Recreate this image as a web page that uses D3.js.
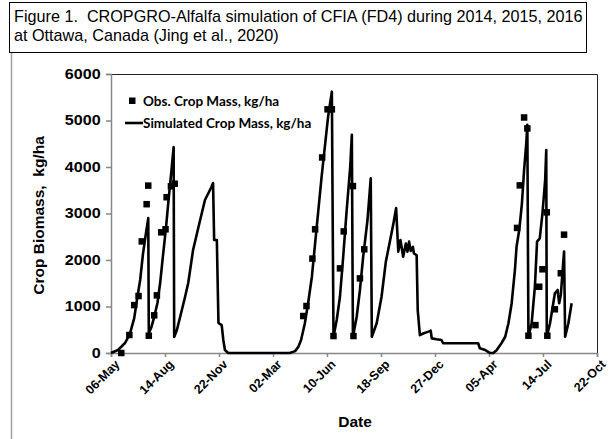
<!DOCTYPE html>
<html>
<head>
<meta charset="utf-8">
<script src="https://cdn.jsdelivr.net/npm/d3@7"></script>
<style>
  body { margin: 0; background: #fff; }
  svg { display: block; font-family: "Liberation Sans", Arial, sans-serif; }
  .title { white-space: pre; }
</style>
</head>
<body>
<div id="chart"></div>
<script>
// days counted from 06-May-2014
const startDate = new Date(Date.UTC(2014, 4, 6));

const simDays = [0, 13, 26, 35, 43, 48, 54, 59, 65, 69, 70, 75, 80, 86, 91, 96, 102, 106, 112, 116,
  117, 122, 128, 137, 143, 152, 162, 174, 186, 189, 191, 196, 199, 205, 208, 211, 217,
  331, 341, 347, 352, 359, 365, 372, 378, 384, 390, 396, 402, 409, 412, 418, 424, 430, 436, 443, 446,
  448, 455, 461, 467, 475, 481, 483, 492, 501, 509, 517, 523, 528, 532, 536, 541, 546, 549, 552, 555,
  559, 561, 566, 568, 572, 578, 588, 592, 594, 603, 612, 615, 680, 683, 693, 699, 702, 708, 714, 723,
  730, 736, 742, 748, 751, 756, 761, 765, 769, 771, 773, 779, 785, 789, 794, 799, 804, 806, 807, 813,
  819, 822, 827, 830, 833, 839, 841, 847, 853];
const simMass = [0, 65, 215, 410, 750, 1140, 1570, 2110, 2600, 2900, 430, 560, 775, 1075, 1505, 2065, 2710, 3225, 3935, 4430,
  345, 495, 775, 1200, 1505, 2215, 2710, 3290, 3570, 3655, 2430, 2430, 645, 600, 280, 65, 0,
  0, 40, 135, 280, 640, 1070, 1640, 2355, 3075, 3790, 4435, 5080, 5620, 350, 710, 1210, 2070, 3005, 4005, 4690,
  350, 780, 1355, 2070, 2860, 3755, 350, 640, 1210, 1965, 2430, 2785, 3115, 2180, 2430, 2070, 2355, 2180, 2395, 2195,
  2285, 2140, 2105, 925, 385, 420, 460, 480, 315, 295, 280, 210, 210, 100, 65, 20, 0, 0, 60, 210,
  350, 640, 1070, 1785, 2285, 2645, 3220, 3935, 4510, 4905, 350, 640, 1425, 2395, 2465, 3005, 3720, 4365, 350, 640,
  1070, 1285, 1355, 1070, 1250, 2180, 350, 640, 1070];

const obsDays = [19, 34, 43, 51, 57, 66, 69, 70, 80, 85, 93, 101, 103, 111, 118,
  356, 362, 373, 378, 391, 401, 409, 412, 424, 431, 448, 449, 461, 469,
  752, 757, 765, 771, 773, 786, 793, 799, 807, 808, 822, 833, 839];
const obsMass = [0, 387, 1030, 1225, 2400, 3200, 3600, 372, 810, 1240, 2595, 2660, 3350, 3585, 3640,
  795, 1010, 2030, 2660, 4205, 5240, 5240, 365, 1820, 2615, 3590, 365, 1605, 2230,
  2690, 3605, 5065, 4830, 372, 600, 1425, 1800, 3025, 372, 940, 1715, 2545];

const tickDays = [0, 100, 200, 300, 400, 500, 600, 700, 800, 900];
const yTicks = [0, 1000, 2000, 3000, 4000, 5000, 6000];

const titleLines = [
  "Figure 1.  CROPGRO-Alfalfa simulation of CFIA (FD4) during 2014, 2015, 2016",
  "at Ottawa, Canada (Jing et al., 2020)"
];

const W = 612, H = 439;
const plot = { left: 111, right: 597, top: 74, bottom: 353 };

const toDate = d => d3.utcDay.offset(startDate, d);

const x = d3.scaleUtc()
  .domain([toDate(0), toDate(900)])
  .range([plot.left, plot.right]);
const y = d3.scaleLinear()
  .domain([0, 6000])
  .range([plot.bottom, plot.top]);

const svg = d3.select("#chart").append("svg")
  .attr("width", W)
  .attr("height", H);

// outer frame + title box
svg.append("line")
  .attr("x1", 11.5).attr("x2", 11.5)
  .attr("y1", 53).attr("y2", H)
  .attr("stroke", "#a0a0a0").attr("stroke-width", 1.5);

svg.append("rect")
  .attr("x", 9.5).attr("y", 2.5)
  .attr("width", 577).attr("height", 50)
  .attr("fill", "#fff")
  .attr("stroke", "#000");

svg.append("g")
  .selectAll("text")
  .data(titleLines)
  .join("text")
  .attr("class", "title")
  .attr("x", 14)
  .attr("y", (d, i) => 22 + i * 19)
  .attr("font-size", 16.2)
  .attr("fill", "#000")
  .text(d => d);

// plot frame (top + right)
svg.append("path")
  .attr("d", `M${plot.left},${plot.top + 0.5}H${plot.right + 0.5}V${plot.bottom}`)
  .attr("fill", "none")
  .attr("stroke", "#222")
  .attr("stroke-width", 1);

// axes
const xAxis = d3.axisBottom(x)
  .tickValues(tickDays.map(toDate))
  .tickFormat(d3.utcFormat("%d-%b"))
  .tickSizeOuter(0)
  .tickSize(4);

const gx = svg.append("g")
  .attr("transform", `translate(0,${plot.bottom})`)
  .call(xAxis);
gx.select(".domain").attr("stroke", "#888").attr("stroke-width", 1.5);
gx.selectAll(".tick line").attr("stroke", "#888").attr("stroke-width", 1.5);
gx.selectAll(".tick text")
  .attr("font-family", "'Liberation Sans', Arial, sans-serif")
  .attr("font-size", 12.5)
  .attr("font-weight", "bold")
  .attr("fill", "#000")
  .attr("text-anchor", "end")
  .attr("transform", "translate(0,3) rotate(-45)")
  .attr("dy", "0.7em")
  .attr("y", 4)
  .attr("x", 0);

const yAxis = d3.axisLeft(y)
  .tickValues(yTicks)
  .tickFormat(d3.format("d"))
  .tickSizeOuter(0)
  .tickSize(5)
  .tickPadding(4);

const gy = svg.append("g")
  .attr("transform", `translate(${plot.left},0)`)
  .call(yAxis);
gy.select(".domain").attr("stroke", "#888").attr("stroke-width", 1.5);
gy.selectAll(".tick line").attr("stroke", "#888").attr("stroke-width", 1.5);
gy.selectAll(".tick text")
  .attr("font-family", "'Liberation Sans', Arial, sans-serif")
  .attr("font-size", 14)
  .attr("font-weight", "bold")
  .attr("fill", "#000")
  .attr("transform", "scale(1.15,1)");

// axis titles
svg.append("text")
  .attr("class", "title")
  .attr("transform", `translate(44,${(plot.top + plot.bottom) / 2 + 2}) rotate(-90)`)
  .attr("text-anchor", "middle")
  .attr("font-size", 15.5)
  .attr("font-weight", "bold")
  .attr("fill", "#000")
  .text("Crop Biomass,  kg/ha");

svg.append("text")
  .attr("x", 355)
  .attr("y", 427)
  .attr("text-anchor", "middle")
  .attr("font-size", 15.5)
  .attr("font-weight", "bold")
  .attr("fill", "#000")
  .text("Date");

// simulated line
const sim = simDays.map((d, i) => ({ date: toDate(d), v: simMass[i] }));
const line = d3.line()
  .x(d => x(d.date))
  .y(d => y(d.v));

svg.append("path")
  .datum(sim)
  .attr("fill", "none")
  .attr("stroke", "#000")
  .attr("stroke-width", 2.6)
  .attr("stroke-linejoin", "round")
  .attr("d", line);

// observed squares
const obs = obsDays.map((d, i) => ({ date: toDate(d), v: obsMass[i] }));
const sq = 6.5;
svg.append("g")
  .selectAll("rect")
  .data(obs)
  .join("rect")
  .attr("x", d => x(d.date) - sq / 2)
  .attr("y", d => y(d.v) - sq / 2)
  .attr("width", sq)
  .attr("height", sq)
  .attr("fill", "#000");

// legend
const legend = svg.append("g")
  .attr("font-family", "Lato, 'Open Sans', sans-serif")
  .attr("font-weight", "bold")
  .attr("font-size", 13.5)
  .attr("fill", "#000");

legend.append("rect")
  .attr("x", 129).attr("y", 97.5)
  .attr("width", sq).attr("height", sq)
  .attr("fill", "#000");
legend.append("text")
  .attr("x", 143).attr("y", 105.5)
  .text("Obs. Crop Mass, kg/ha");

legend.append("line")
  .attr("x1", 125).attr("x2", 143)
  .attr("y1", 123).attr("y2", 123)
  .attr("stroke", "#000").attr("stroke-width", 2.6);
legend.append("text")
  .attr("x", 143).attr("y", 128)
  .text("Simulated Crop Mass, kg/ha");
</script>
</body>
</html>
